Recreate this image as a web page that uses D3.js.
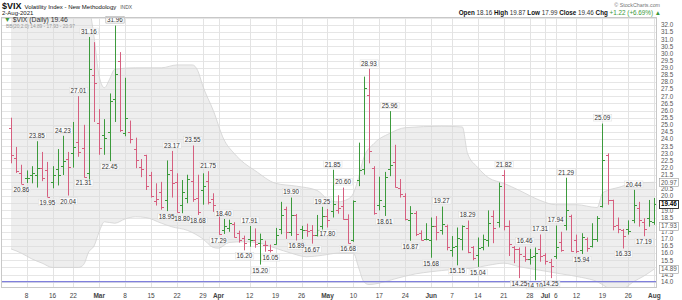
<!DOCTYPE html>
<html><head><meta charset="utf-8">
<script src="https://cdn.jsdelivr.net/npm/d3@7"></script>
<style>body{margin:0;background:#fff}svg{display:block}text{font-family:"Liberation Sans",Arial,sans-serif}</style>
</head><body><svg id="c" width="682" height="300"></svg>
<script>
const dates = ["2021-02-03","2021-02-04","2021-02-05","2021-02-08","2021-02-09","2021-02-10","2021-02-11","2021-02-12","2021-02-16","2021-02-17","2021-02-18","2021-02-19","2021-02-22","2021-02-23","2021-02-24","2021-02-25","2021-02-26",
"2021-03-01","2021-03-02","2021-03-03","2021-03-04","2021-03-05","2021-03-08","2021-03-09","2021-03-10","2021-03-11","2021-03-12","2021-03-15","2021-03-16","2021-03-17","2021-03-18","2021-03-19","2021-03-22","2021-03-23","2021-03-24","2021-03-25","2021-03-26","2021-03-29","2021-03-30","2021-03-31",
"2021-04-01","2021-04-05","2021-04-06","2021-04-07","2021-04-08","2021-04-09","2021-04-12","2021-04-13","2021-04-14","2021-04-15","2021-04-16","2021-04-19","2021-04-20","2021-04-21","2021-04-22","2021-04-23","2021-04-26","2021-04-27","2021-04-28","2021-04-29","2021-04-30",
"2021-05-03","2021-05-04","2021-05-05","2021-05-06","2021-05-07","2021-05-10","2021-05-11","2021-05-12","2021-05-13","2021-05-14","2021-05-17","2021-05-18","2021-05-19","2021-05-20","2021-05-21","2021-05-24","2021-05-25","2021-05-26","2021-05-27","2021-05-28",
"2021-06-01","2021-06-02","2021-06-03","2021-06-04","2021-06-07","2021-06-08","2021-06-09","2021-06-10","2021-06-11","2021-06-14","2021-06-15","2021-06-16","2021-06-17","2021-06-18","2021-06-21","2021-06-22","2021-06-23","2021-06-24","2021-06-25","2021-06-28","2021-06-29","2021-06-30",
"2021-07-01","2021-07-02","2021-07-06","2021-07-07","2021-07-08","2021-07-09","2021-07-12","2021-07-13","2021-07-14","2021-07-15","2021-07-16","2021-07-19","2021-07-20","2021-07-21","2021-07-22","2021-07-23","2021-07-26","2021-07-27","2021-07-28","2021-07-29","2021-07-30",
"2021-08-02"];
const open = [24.8,22.69,21.6,21.3,21.5,21.5,22.0,21.8,21.0,21.9,22.1,22.6,22.99,23.8,23.4,21.65,28.5,
25.1,24.3,24.5,26.8,29.5,24.4,24.5,23.3,22.07,22.85,21.49,19.66,20.28,19.7,21.86,21.0,19.41,19.9,21.04,19.9,20.4,21.05,19.8,
18.8,17.6,17.8,18.07,17.4,17.09,17.0,16.93,16.73,16.58,16.21,16.66,17.72,19.09,17.47,18.71,17.71,17.63,17.61,17.29,17.88,
18.58,18.99,19.06,19.33,18.39,16.9,21.16,21.9,27.1,22.0,19.4,19.3,21.9,22.4,20.6,20.0,18.3,18.8,17.4,17.0,
16.9,17.9,17.6,17.9,16.2,16.5,17.0,17.8,16.4,15.9,16.4,16.9,18.6,18.2,21.5,17.9,16.4,16.3,15.8,15.6,15.8,16.3,
15.9,15.4,15.8,16.8,18.0,18.6,16.9,16.2,17.0,16.5,17.0,19.3,22.9,19.7,18.0,17.6,17.7,18.3,19.2,18.2,18.5,
18.16];
const high = [25.5,23.45,22.2,21.8,22.1,23.85,23.1,22.4,22.1,23.3,24.23,23.1,25.2,27.01,25.0,31.16,30.8,
26.1,25.4,27.2,31.96,30.1,28.3,25.3,24.1,22.6,22.9,21.7,20.9,21.0,22.5,23.17,21.6,21.13,21.5,23.55,21.5,21.6,21.75,20.2,
18.9,18.40,18.35,18.17,17.58,17.23,17.91,17.74,17.37,16.88,16.6,17.77,19.6,19.26,19.90,18.75,17.92,18.07,17.97,18.68,19.25,
19.1,21.85,20.06,20.60,18.72,19.70,23.75,28.38,28.93,22.1,21.36,21.7,25.96,23.6,21.2,20.2,19.3,18.95,17.6,18.1,
18.5,18.6,19.27,18.0,17.2,17.8,17.95,18.29,16.5,17.1,17.3,19.0,19.0,20.95,21.82,18.3,16.5,16.4,16.46,16.3,16.4,17.31,
16.0,15.6,17.94,17.5,21.29,18.7,17.3,17.4,17.1,18.1,18.6,25.09,23.0,19.75,18.5,17.7,18.3,20.44,19.6,18.45,19.73,
19.87];
const low = [22.3,21.63,20.86,20.92,20.9,20.6,21.05,19.95,20.55,20.75,21.48,20.04,22.0,22.76,21.31,21.10,25.2,
22.9,22.9,22.45,25.2,24.5,24.2,23.7,21.96,21.33,20.43,19.9,19.34,19.05,18.95,19.9,18.85,18.80,19.5,19.60,18.68,19.4,19.42,18.9,
17.29,17.35,17.5,17.1,16.74,16.20,16.45,16.38,15.20,16.1,16.05,16.6,17.33,17.0,17.21,16.89,16.99,17.15,16.67,17.17,17.52,
17.80,18.5,18.77,18.35,16.68,16.80,20.7,21.5,22.3,18.7,19.0,18.61,21.4,20.6,19.9,18.3,16.87,17.2,16.9,16.9,
15.68,16.9,17.3,16.2,15.75,15.15,16.2,16.0,15.5,15.04,16.2,16.45,16.7,17.8,17.6,15.8,15.3,14.25,15.4,15.2,14.10,15.4,
15.2,14.25,15.6,16.1,17.6,16.1,16.0,15.94,16.1,16.4,16.8,19.2,19.4,17.6,17.4,16.33,17.3,18.1,17.86,17.19,17.86,
17.99];
const close = [22.91,21.77,20.87,21.24,21.63,21.99,21.25,19.97,21.46,21.50,22.49,22.05,23.45,23.11,21.34,28.89,27.95,
23.35,24.10,26.67,28.57,24.66,25.47,24.03,22.56,21.91,20.69,20.03,19.79,19.23,21.58,20.95,18.88,20.30,21.20,19.81,18.86,20.74,19.61,19.40,
17.33,17.91,18.12,17.16,16.95,16.69,16.91,16.65,16.99,16.57,16.25,17.29,18.68,17.50,18.71,17.33,17.64,17.56,17.28,17.61,18.61,
18.31,19.48,19.15,18.39,16.69,19.66,21.84,27.59,23.13,18.81,19.72,21.34,22.18,20.67,20.15,18.40,18.84,17.36,16.95,16.98,
17.90,17.48,18.04,16.40,16.42,17.07,17.89,16.10,15.65,16.39,17.02,18.15,17.75,20.70,17.89,16.66,16.32,15.97,15.62,15.76,16.02,15.83,
15.48,15.07,16.44,16.20,19.00,16.18,16.17,17.12,16.33,17.01,18.45,22.50,19.73,17.91,17.69,17.20,17.58,19.36,18.31,17.70,18.24,
19.46];
const prevClose = 25.56;

const annHigh = ["2021-02-10","2021-02-18","2021-02-23","2021-02-25","2021-03-04","2021-03-19","2021-03-25","2021-03-30","2021-04-05","2021-04-12","2021-04-22","2021-04-30","2021-05-04","2021-05-06","2021-05-13","2021-05-19","2021-06-03","2021-06-10","2021-06-21","2021-06-25","2021-06-30","2021-07-06","2021-07-08","2021-07-19","2021-07-27"];
const annLow = ["2021-02-05","2021-02-12","2021-02-19","2021-02-24","2021-03-03","2021-03-18","2021-03-23","2021-03-26","2021-04-01","2021-04-09","2021-04-14","2021-04-16","2021-04-23","2021-04-28","2021-05-03","2021-05-07","2021-05-18","2021-05-25","2021-06-01","2021-06-08","2021-06-14","2021-06-24","2021-06-29","2021-07-02","2021-07-13","2021-07-23","2021-07-29"];
const boxedHigh = "2021-03-04";

const bbDates = ["2021-02-03","2021-02-24","2021-02-25","2021-02-26","2021-03-01","2021-03-02","2021-03-03","2021-03-04","2021-03-10","2021-03-17","2021-03-22","2021-03-25","2021-03-26","2021-03-29","2021-03-31","2021-04-05","2021-04-07","2021-04-09","2021-04-13","2021-04-19","2021-04-23","2021-04-29","2021-05-03","2021-05-05","2021-05-07","2021-05-10","2021-05-11","2021-05-12","2021-05-14","2021-05-19","2021-05-24","2021-06-03","2021-06-09","2021-06-10","2021-06-14","2021-06-16","2021-06-21","2021-06-24","2021-06-30","2021-07-06","2021-07-12","2021-07-16","2021-07-19","2021-07-20","2021-07-22","2021-07-27","2021-08-02"];
const bbUpper = [35,35,33.5,31.2,28.4,27.6,28.2,28.9,29.0,29.0,29.2,29.2,28.8,27.7,26.0,24.0,23.0,22.3,21.8,20.9,20.7,20.4,19.8,19.6,19.8,20.2,21.3,22.7,23.7,24.4,24.8,24.9,24.85,23.0,22.0,21.3,20.9,20.4,19.7,19.4,19.4,19.2,20.2,20.4,20.6,20.9,20.97];
const bbLowDates = ["2021-02-03","2021-02-05","2021-02-09","2021-02-11","2021-02-16","2021-02-19","2021-02-23","2021-02-24","2021-02-25","2021-02-26","2021-03-01","2021-03-02","2021-03-04","2021-03-08","2021-03-10","2021-03-12","2021-03-17","2021-03-19","2021-03-24","2021-03-29","2021-03-31","2021-04-01","2021-04-06","2021-04-09","2021-04-14","2021-04-19","2021-04-22","2021-04-27","2021-04-30","2021-05-05","2021-05-10","2021-05-11","2021-05-12","2021-05-13","2021-05-17","2021-05-20","2021-05-26","2021-06-01","2021-06-07","2021-06-11","2021-06-16","2021-06-21","2021-06-24","2021-06-30","2021-07-07","2021-07-13","2021-07-16","2021-07-19","2021-07-21","2021-07-23","2021-07-27","2021-07-29","2021-08-02"];
const bbLower = [16.3,16.0,15.6,15.3,15.0,15.0,15.0,15.2,16.1,16.5,17.5,18.2,18.1,18.4,18.55,18.5,18.1,17.85,17.6,17.0,16.4,16.35,16.75,16.8,16.7,16.35,16.0,15.75,15.85,16.0,16.0,15.0,14.0,13.8,13.9,14.2,14.55,14.7,14.85,14.95,15.15,15.3,15.05,14.8,14.55,14.3,14.0,13.8,13.4,13.5,14.0,14.4,14.89];

const tickDates = ["2021-02-08","2021-02-16","2021-02-22","2021-03-01","2021-03-08","2021-03-15","2021-03-22","2021-03-29","2021-04-01","2021-04-12","2021-04-19","2021-04-26","2021-05-03","2021-05-10","2021-05-17","2021-05-24","2021-06-01","2021-06-07","2021-06-14","2021-06-21","2021-06-28","2021-07-01","2021-07-06","2021-07-12","2021-07-19","2021-07-26","2021-08-02"];
const tickLabels = ["8","16","22","Mar","8","15","22","29","Apr","12","19","26","May","10","17","24","Jun","7","14","21","28","Jul","6","12","19","26","Aug"];
const hLine = 14.0;

const svg = d3.select("#c");
const L = 1, R = 657, T = 17, B = 288;
const x = d3.scalePoint().domain(dates).range([11, 654.3]);
const y = d3.scaleLinear().domain([14, 32]).range([281.7, 25]);
const green = "#3c9a3c", red = "#d65f7f";

svg.append("defs").append("clipPath").attr("id","pc").append("rect").attr("x",L).attr("y",T).attr("width",R-L).attr("height",B-T);
const g = svg.append("g").attr("clip-path","url(#pc)");

// horizontal grid
g.selectAll("line.hg").data(d3.range(0, 38)).join("line")
  .attr("x1", L).attr("x2", R)
  .attr("y1", d => Math.round(y(14 + d*0.5)) + 0.5).attr("y2", d => Math.round(y(14 + d*0.5)) + 0.5)
  .attr("stroke", "#e6e6e6").attr("stroke-width", 1);
// vertical grid
g.selectAll("line.vg").data(tickDates).join("line")
  .attr("x1", d => Math.round(x(d))+0.5).attr("x2", d => Math.round(x(d))+0.5)
  .attr("y1", T).attr("y2", B).attr("stroke", "#e3e3e3");

// bands
const up = bbDates.map((d,i)=>[x(d), y(bbUpper[i])]);
const lo = bbLowDates.map((d,i)=>[x(d), y(bbLower[i])]);
const lineGen = d3.line().curve(d3.curveMonotoneX);
const upPath = lineGen(up), loPath = lineGen(lo.slice().reverse());
// build polygon: upper forward then lower backward
const areaPath = upPath + "L" + loPath.slice(1);
g.append("path").attr("d", areaPath).attr("fill", "#d9d9d9").attr("fill-opacity", 0.45).attr("stroke","none");
g.append("path").attr("d", lineGen(up)).attr("fill","none").attr("stroke","#d2d2d2").attr("stroke-width",0.8);
g.append("path").attr("d", lineGen(lo)).attr("fill","none").attr("stroke","#d2d2d2").attr("stroke-width",0.8);

// horizontal blue line
g.append("line").attr("x1",L).attr("x2",R).attr("y1",y(hLine)).attr("y2",y(hLine))
  .attr("stroke","#7f7fdc").attr("stroke-width",1.3);

// bars
const bars = g.append("g");
dates.forEach((d,i)=>{
  const pc = i === 0 ? prevClose : close[i-1];
  const col = close[i] >= pc ? green : red;
  const xx = Math.round(x(d)) + 0.5;
  bars.append("line").attr("x1",xx).attr("x2",xx).attr("y1",y(high[i])).attr("y2",y(low[i])).attr("stroke",col).attr("stroke-width",1);
  bars.append("line").attr("x1",xx-2.5).attr("x2",xx).attr("y1",Math.round(y(open[i]))+0.5).attr("y2",Math.round(y(open[i]))+0.5).attr("stroke",col);
  bars.append("line").attr("x1",xx).attr("x2",xx+2.5).attr("y1",Math.round(y(close[i]))+0.5).attr("y2",Math.round(y(close[i]))+0.5).attr("stroke",col);
});

// annotations
const ann = svg.append("g");
function annotate(d, isHigh){
  const i = dates.indexOf(d);
  const v = isHigh ? high[i] : low[i];
  const xx = x(d);
  const by = isHigh ? y(v) - 3.2 : y(v) + 8;
  const t = ann.append("text").attr("x", xx).attr("y", by).attr("text-anchor","middle")
    .attr("font-family","Liberation Serif, serif").attr("font-size", 6.3).attr("fill","#333").text(v.toFixed(2));
  const bb = t.node().getBBox();
  const boxed = d === boxedHigh;
  ann.insert("rect", "text").attr("x", bb.x-1).attr("y", bb.y+0.3).attr("width", bb.width+2).attr("height", bb.height-0.6)
    .attr("fill", "#fff").attr("fill-opacity", 0.75).attr("stroke", boxed ? "#999" : "#ddd").attr("stroke-width", 0.5);
}
annHigh.forEach(d=>annotate(d,true));
annLow.forEach(d=>annotate(d,false));

// frame
svg.append("rect").attr("x",L+0.5).attr("y",T+0.5).attr("width",R-L-1).attr("height",B-T-1).attr("fill","none").attr("stroke","#c8c8c8");

// right axis
const lastClose = close[close.length-1];
const upLast = bbUpper[bbUpper.length-1], loLast = bbLower[bbLower.length-1];
const midLast = (upLast + loLast)/2;
const boxes = [{v:upLast, k:"g"},{v:lastClose, k:"c"},{v:midLast, k:"g"},{v:loLast, k:"g"}];
const ticks = y.ticks(36).filter(t => boxes.every(b => Math.abs(b.v - t) > 0.3));
svg.selectAll("text.yt").data(ticks).join("text").attr("class","yt")
  .attr("x", 661).attr("y", t => y(t)+2.3).attr("font-size", 6.3).attr("fill","#555").text(t => t.toFixed(1));
boxes.forEach(b=>{
  svg.append("rect").attr("x",659.5).attr("y",Math.round(y(b.v))-4+0.5).attr("width",19).attr("height",8)
    .attr("fill","#fff").attr("stroke", b.k==="c" ? "#222" : "#999").attr("stroke-width", b.k==="c"?0.9:0.6);
  svg.append("text").attr("x",661).attr("y",y(b.v)+2.3).attr("font-size",6.3)
    .attr("font-weight", b.k==="c" ? "bold":"normal").attr("fill", b.k==="c" ? "#000" : "#555").text(b.v.toFixed(2));
});

// x axis labels
svg.selectAll("text.xt").data(tickDates).join("text").attr("class","xt")
  .attr("x", d => x(d)).attr("y", 297.5).attr("text-anchor","middle").attr("font-size", 6.5)
  .attr("font-weight", (d,i) => isNaN(+tickLabels[i]) ? "bold" : "normal")
  .attr("fill", "#444").text((d,i) => tickLabels[i]);

// header
const h = svg.append("text").attr("x",2).attr("y",8.5).attr("fill","#111");
h.append("tspan").attr("font-size",9).attr("font-weight","bold").text("$VIX");
h.append("tspan").attr("font-size",6).attr("dx",3).text("Volatility Index - New Methodology");
h.append("tspan").attr("font-size",5).attr("dx",4).attr("fill","#555").text("INDX");
svg.append("text").attr("x",2).attr("y",15).attr("font-size",6).attr("fill","#222").text("2-Aug-2021");
svg.append("text").attr("x",660).attr("y",6.5).attr("text-anchor","end").attr("font-size",5.3).attr("fill","#777").text("© StockCharts.com");
const o = svg.append("text").attr("x",661).attr("y",15).attr("text-anchor","end").attr("font-size",6.3).attr("fill","#333");
const prev = close[close.length-2];
const chg = lastClose - prev;
[["Open ", open[124]],["High ", high[124]],["Low ", low[124]],["Close ", lastClose]].forEach(([k,v])=>{
  o.append("tspan").attr("font-weight","bold").attr("fill","#111").text(k);
  o.append("tspan").text(v.toFixed(2) + " ");
});
o.append("tspan").attr("font-weight","bold").attr("fill","#111").text("Chg ");
o.append("tspan").attr("fill", green).text("+" + chg.toFixed(2) + " (+" + (chg/prev*100).toFixed(2) + "%) ▲");

// legend inside plot
const lg = svg.append("text").attr("x",4).attr("y",22).attr("font-size",6.8).attr("fill","#333");
lg.append("tspan").attr("fill",green).text("▼ ");
lg.append("tspan").text("$VIX (Daily) " + lastClose.toFixed(2));
svg.append("text").attr("x",6).attr("y",27.5).attr("font-size",4.8).attr("fill","#999")
  .text("BB(20,2.0) " + loLast.toFixed(2) + " - " + midLast.toFixed(2) + " - " + upLast.toFixed(2));
</script></body></html>
